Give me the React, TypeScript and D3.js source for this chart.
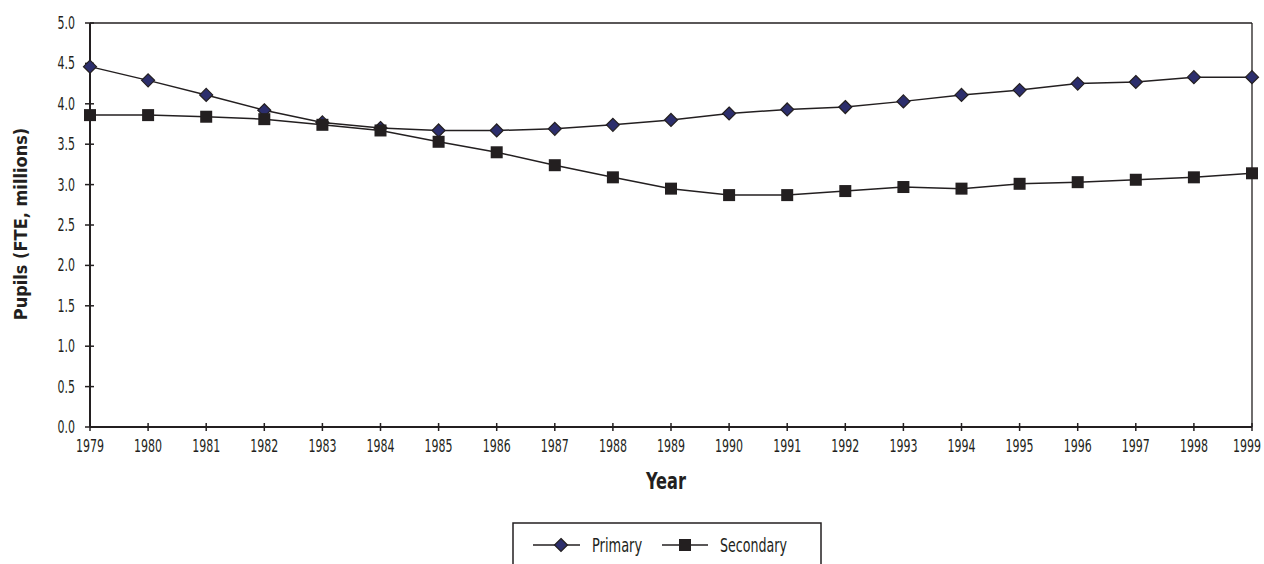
import React from "react";
import * as d3 from "d3";

const years = [1979,1980,1981,1982,1983,1984,1985,1986,1987,1988,1989,1990,1991,1992,1993,1994,1995,1996,1997,1998,1999];
const primary = [4.46,4.29,4.11,3.92,3.77,3.70,3.67,3.67,3.69,3.74,3.80,3.88,3.93,3.96,4.03,4.11,4.17,4.25,4.27,4.33,4.33];
const secondary = [3.86,3.86,3.84,3.81,3.74,3.67,3.53,3.40,3.24,3.09,2.95,2.87,2.87,2.92,2.97,2.95,3.01,3.03,3.06,3.09,3.14];
const yTicks = [0,0.5,1,1.5,2,2.5,3,3.5,4,4.5,5];
const seriesNames = ["Primary", "Secondary"];

const FONT = "'DejaVu Sans Condensed', 'DejaVu Sans', sans-serif";
const NAVY = "#2c2e6c";
const DARK = "#231f20";

function NText(props: {
  x: number; y: number; sx?: number; anchor?: string; size: number; bold?: boolean; children: React.ReactNode;
}) {
  const { x, y, sx = 0.75, anchor = "start", size, bold, children } = props;
  return (
    <text
      transform={`translate(${x},${y}) scale(${sx},1)`}
      textAnchor={anchor}
      fontSize={size}
      fontWeight={bold ? "bold" : "normal"}
      fill={DARK}
    >
      {children}
    </text>
  );
}

export default function App() {
  const W = 1264, H = 564;
  const left = 90, right = 1252, top = 23, bottom = 427;
  const x = d3.scaleLinear().domain([1979, 1999]).range([left, right]);
  const y = d3.scaleLinear().domain([0, 5]).range([bottom, top]);
  const line = d3.line<number>().x((_, i) => x(years[i])).y((d) => y(d));

  const diamond = (cx: number, cy: number, r: number) =>
    `M${cx},${cy - r}L${cx + r},${cy}L${cx},${cy + r}L${cx - r},${cy}Z`;

  const ly = 545;

  return (
    <div style={{ position: "absolute", left: 0, top: 0 }}>
      <svg width={W} height={H} style={{ display: "block", background: "#fff" }} fontFamily={FONT}>
        {/* frame top/right */}
        <line x1={left} y1={top} x2={right} y2={top} stroke={DARK} strokeWidth={1.3} />
        <line x1={right} y1={top} x2={right} y2={bottom} stroke={DARK} strokeWidth={1.3} />
        {/* y axis */}
        <line x1={left} y1={top} x2={left} y2={bottom} stroke={DARK} strokeWidth={2} />
        {yTicks.map((t) => (
          <g key={"y" + t}>
            <line x1={left - 5} x2={left + 4} y1={y(t)} y2={y(t)} stroke={DARK} strokeWidth={1.5} />
            <NText x={75} y={y(t) + 6} anchor="end" size={18} sx={0.68}>
              {t.toFixed(1)}
            </NText>
          </g>
        ))}
        {/* x axis */}
        <line x1={left} y1={bottom} x2={right} y2={bottom} stroke={DARK} strokeWidth={2} />
        {years.map((yr, i) => (
          <g key={"x" + yr}>
            <line x1={x(yr)} x2={x(yr)} y1={bottom - 4} y2={bottom + 4} stroke={DARK} strokeWidth={1.5} />
            <NText x={i === years.length - 1 ? x(yr) - 5 : x(yr)} y={452} anchor="middle" size={18} sx={0.68}>
              {yr}
            </NText>
          </g>
        ))}
        {/* titles */}
        <NText x={(left + right) / 2 - 5} y={489} anchor="middle" size={23} sx={0.78} bold>
          Year
        </NText>
        <text
          transform={`translate(27,${224}) rotate(-90)`}
          textAnchor="middle"
          fontSize={18}
          fontWeight="bold"
          fill={DARK}
        >
          Pupils (FTE, millions)
        </text>
        {/* lines */}
        <path d={line(primary) || ""} fill="none" stroke={DARK} strokeWidth={1.5} />
        <path d={line(secondary) || ""} fill="none" stroke={DARK} strokeWidth={1.5} />
        {primary.map((v, i) => (
          <path key={"p" + i} d={diamond(x(years[i]), y(v), 6.5)} fill={NAVY} stroke={DARK} strokeWidth={1.2} />
        ))}
        {secondary.map((v, i) => (
          <rect key={"s" + i} x={x(years[i]) - 6} y={y(v) - 6} width={12} height={12} fill={DARK} />
        ))}
        {/* legend */}
        <rect x={513} y={523} width={308} height={60} fill="none" stroke={DARK} strokeWidth={1.5} />
        <line x1={533} x2={580} y1={ly} y2={ly} stroke={DARK} strokeWidth={1.5} />
        <path d={diamond(561, ly, 6.5)} fill={NAVY} stroke={DARK} strokeWidth={1.2} />
        <NText x={592} y={ly + 7} size={19} sx={0.76}>{seriesNames[0]}</NText>
        <line x1={662} x2={708} y1={ly} y2={ly} stroke={DARK} strokeWidth={1.5} />
        <rect x={679} y={ly - 6} width={12} height={12} fill={DARK} />
        <NText x={720} y={ly + 7} size={19} sx={0.74}>{seriesNames[1]}</NText>
      </svg>
    </div>
  );
}
